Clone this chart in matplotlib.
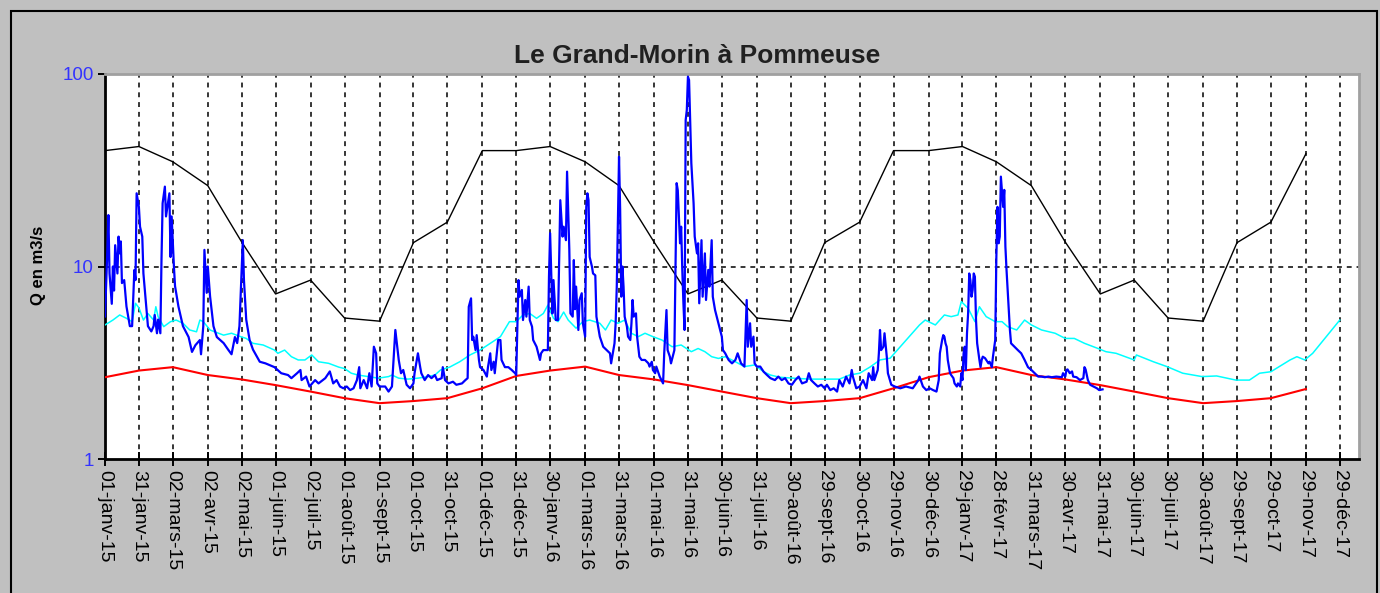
import datetime as dt
import matplotlib
matplotlib.use("Agg")
import matplotlib.pyplot as plt
import matplotlib.dates as mdates
from matplotlib.ticker import FixedLocator, NullLocator, FuncFormatter
from matplotlib.patches import Rectangle

plt.rcParams['font.family'] = ['Liberation Sans', 'DejaVu Sans']

title = "Le Grand-Morin à Pommeuse"
ylabel = "Q en m3/s"
start = dt.date(2015, 1, 1)

tick_labels = ["01-janv-15", "31-janv-15", "02-mars-15", "02-avr-15", "02-mai-15", "01-juin-15",
               "02-juil-15", "01-août-15", "01-sept-15", "01-oct-15", "31-oct-15", "01-déc-15",
               "31-déc-15", "30-janv-16", "01-mars-16", "31-mars-16", "01-mai-16", "31-mai-16",
               "30-juin-16", "31-juil-16", "30-août-16", "29-sept-16", "30-oct-16", "29-nov-16",
               "30-déc-16", "29-janv-17", "28-févr-17", "31-mars-17", "30-avr-17", "31-mai-17",
               "30-juin-17", "30-juil-17", "30-août-17", "29-sept-17", "29-oct-17", "29-nov-17",
               "29-déc-17"]

# monthly max (black) and min (red) curves, one value per tick date (first 36 ticks)
qmax = [40, 42, 35, 26.3, 13.4, 7.2, 8.5, 5.4, 5.2, 13.3, 17, 40,
        40, 42, 35, 26.3, 13.4, 7.2, 8.5, 5.4, 5.2, 13.3, 17, 40,
        40, 42, 35, 26.3, 13.4, 7.2, 8.5, 5.4, 5.2, 13.3, 17, 38.5]
qmin = [2.66, 2.88, 3.0, 2.73, 2.59, 2.42, 2.24, 2.07, 1.95, 2.0, 2.07, 2.33,
        2.70, 2.88, 3.02, 2.73, 2.59, 2.42, 2.24, 2.07, 1.95, 2.0, 2.07, 2.33,
        2.66, 2.88, 3.0, 2.73, 2.59, 2.42, 2.24, 2.07, 1.95, 2.0, 2.07, 2.31]

# mean daily flow (cyan): day offset from 2015-01-01, value
cyan_day = [0, 7, 13, 19, 24, 27, 30, 34, 38, 43, 45, 47, 52, 58, 63, 69, 75, 81, 84, 87, 93, 97,
            105, 112, 120, 125, 131, 140, 150, 153, 159, 165, 171, 177, 183, 189, 198, 207, 212,
            218, 224, 233, 242, 251, 254, 260, 268, 277, 286, 292, 297, 305, 314, 323, 332, 341,
            350, 358, 364, 370, 376, 382, 388, 392, 397, 401, 406, 410, 417, 423, 429, 438, 443,
            448, 454, 460, 466, 472, 478, 485, 493, 502, 510, 519, 525, 531, 537, 543, 549, 558,
            566, 575, 583, 589, 597, 609, 624, 639, 650, 659, 668, 677, 686, 695, 704, 712, 721,
            726, 735, 743, 749, 755, 758, 764, 770, 774, 780, 788, 794, 799, 807, 814, 820, 829,
            841, 850, 858, 867, 879, 886, 895, 911, 913, 928, 940, 954, 971, 984, 1001, 1013,
            1022, 1032, 1049, 1055, 1062, 1069, 1081, 1093]
cyan_q = [4.97, 5.27, 5.6, 5.38, 5.17, 6.44, 6.1, 5.27, 5.7, 5.27, 6.18, 5.49, 4.87, 5.17, 5.27,
          5.07, 4.68, 4.58, 5.27, 5.17, 4.68, 4.58, 4.4, 4.5, 4.32, 4.23, 3.99, 3.91, 3.68, 3.54,
          3.68, 3.4, 3.27, 3.27, 3.47, 3.2, 3.14, 3.0, 2.95, 2.79, 2.73, 2.68, 2.63, 2.68, 2.73,
          2.63, 2.6, 2.63, 2.68, 2.73, 2.9, 3.0, 3.2, 3.47, 3.68, 3.99, 4.32, 5.17, 5.17, 5.6, 5.7,
          5.38, 5.7, 6.3, 5.38, 5.17, 5.8, 5.27, 4.78, 5.17, 5.27, 5.07, 4.68, 5.27, 5.07, 5.27,
          4.5, 4.32, 4.5, 4.32, 4.15, 3.83, 3.91, 3.61, 3.75, 3.61, 3.4, 3.33, 3.4, 3.2, 3.02,
          3.08, 2.84, 2.73, 2.66, 2.63, 2.6, 2.6, 2.6, 2.73, 2.79, 3.0, 3.27, 3.34, 3.83, 4.32,
          4.97, 5.27, 4.97, 5.6, 5.49, 5.6, 6.57, 6.07, 5.17, 6.18, 5.49, 5.17, 5.17, 4.87, 4.68,
          5.27, 4.97, 4.68, 4.5, 4.23, 4.23, 3.99, 3.75, 3.61, 3.54, 3.27, 3.47, 3.2, 3.02, 2.79,
          2.68, 2.7, 2.57, 2.57, 2.79, 2.84, 3.27, 3.4, 3.27, 3.54, 4.32, 5.27]

# observed daily flow (blue): day offset from 2015-01-01, value
blue_day = [0, 2, 3, 4, 6, 7, 8, 9, 11, 12, 13, 14, 15, 17, 19, 22, 24, 26, 27, 28, 30, 31, 33,
            34, 36, 38, 41, 43, 44, 46, 47, 49, 50, 51, 53, 54, 57, 58, 59, 61, 62, 65, 69, 74,
            77, 80, 84, 85, 87, 88, 90, 91, 93, 96, 99, 105, 109, 112, 115, 117, 119, 122, 123,
            125, 128, 131, 137,
            142, 150, 156, 162, 165, 170, 173, 174, 178, 181, 186, 189, 195, 199, 202, 205, 208,
            211, 214, 217, 220, 223, 225, 226, 229, 232, 234, 236, 238, 240, 241, 243, 248, 251,
            254, 257, 258, 260, 262, 264, 267, 270, 273, 274, 277, 279, 280, 283, 286, 289,
            292, 294, 298, 299, 301, 304, 308, 311, 316, 319, 321, 322, 324, 325, 326, 328, 329,
            331, 332, 335, 338, 339, 341, 342, 344, 345, 348, 350, 351, 354, 357, 360, 363, 364,
            366, 367, 369, 370, 372, 373, 375, 376, 378, 379, 382, 385, 386, 388, 391, 392, 393,
            394, 396, 397, 399, 401, 403, 405, 406, 408, 409, 411, 412, 414, 415, 416, 417, 419,
            420, 422, 423, 425, 426, 427, 428, 429, 431, 432,
            434, 435, 438, 441, 444, 447, 448, 450, 451, 452, 453, 455, 456, 457, 458, 459, 460,
            462, 463, 465, 466, 467, 468, 470, 471, 473, 475, 478, 481, 482, 484, 485, 487, 488,
            491, 494, 495, 497, 498, 500, 501, 504, 506, 507, 509, 510, 511, 512, 513, 514, 515,
            516, 517, 519, 521, 522, 524, 525, 526, 528, 529, 531, 532, 534, 535, 537, 538, 540,
            543, 546, 547, 549, 552, 555, 558, 560, 562, 563, 566, 568, 569, 571, 572, 574, 575,
            577, 580, 583,
            586, 589, 593, 596, 599, 602, 605, 608, 611, 614, 617, 621, 623, 625, 628, 631, 634,
            637, 639, 642, 645, 648, 650, 653, 656, 659, 661, 662, 665, 668, 671, 674, 676, 679,
            680, 681, 684, 685, 686, 687, 689, 690, 692, 693, 696, 699, 704, 709, 715, 720, 721,
            724, 727, 730,
            733, 736, 738, 739, 741, 742, 743, 744, 745, 746, 748, 749, 751, 752, 754, 755, 757,
            758, 759, 760, 761, 762, 763, 764, 765, 766, 767, 768, 769, 770, 771, 772, 774, 775,
            776, 777, 779, 780, 782, 783, 785, 786, 788, 789, 790, 791, 792, 793, 795, 796, 797,
            798, 799, 801, 802, 805, 808, 811, 814, 817, 820, 823, 826, 829, 832, 835, 838, 842,
            847, 848, 850, 851, 852, 854, 856, 857, 860, 863, 866, 867, 868, 870, 872, 875, 878,
            880, 883]
blue_q = [5.5, 11.7, 18.5, 9.2, 6.4, 10, 7.5, 12.9, 9.2, 14.3, 11.7, 13.5, 8.2, 8.5, 6.2, 4.9,
          4.9, 9.6, 8.5, 24, 20.4, 16.1, 14.3, 9.2, 6.7, 4.9, 4.6, 4.9, 5.6, 4.5, 5.3, 4.5, 10.8,
          21.3, 26, 18.2, 24, 11.2, 18.2, 10, 7.9, 6.2, 4.9, 4.3, 3.6, 3.9, 4.15, 3.5, 4.9, 12.2,
          7.3, 10, 7.0, 4.9, 4.3, 4.0, 3.7, 3.5, 4.3, 4.0, 4.9, 13.7, 8.5, 5.3, 4.15, 3.7, 3.2,
          3.14, 3.0, 2.79, 2.73, 2.63, 2.79, 2.9, 2.57, 2.68, 2.38, 2.57, 2.47, 2.63, 2.85, 2.47,
          2.57, 2.38, 2.33, 2.38, 2.28, 2.33, 2.57, 3.0, 2.33, 2.57, 2.33, 2.79, 2.38, 3.83, 3.54,
          2.47, 2.38, 2.38, 2.24, 2.38, 4.68, 4.15, 3.27, 2.79, 2.9, 2.43, 2.33, 2.47, 2.79, 3.54,
          3.0, 2.79, 2.57, 2.73, 2.63,
          2.73, 2.57, 2.63, 3.0, 2.57, 2.47, 2.52, 2.43, 2.47, 2.57, 2.63, 6.18, 6.83, 4.15, 4.32,
          3.68, 4.4, 3.27, 3.0, 2.9, 2.68, 3.0, 3.54, 2.9, 3.2, 2.79, 4.15, 4.15, 3.27, 3.0, 3.0,
          2.9, 2.79, 2.73, 8.5, 6.97, 7.55, 5.27, 6.7, 5.49, 7.86, 5.27, 4.87, 4.15, 3.83, 3.27,
          3.54, 3.68, 3.68, 3.68, 8.85, 14.9, 5.7, 8.5, 5.27, 5.27, 22.1, 14.3, 16.1, 13.7, 31.1,
          12.2, 5.7, 5.49, 10.8, 6.0, 7.86, 4.68, 6.7, 7.26, 5.07, 4.32, 20.4, 24, 22.1, 11.2, 10,
          9.2,
          9.0, 5.49, 4.32, 3.83, 3.68, 3.54, 3.14, 3.68, 3.99, 5.07, 7.86, 37.2, 19.7, 6.97, 10,
          7.86, 5.49, 4.87, 4.32, 4.15, 5.07, 6.7, 5.49, 5.71, 4.32, 3.4, 3.27, 3.27, 3.14, 3.02,
          3.2, 2.9, 2.79, 3.02, 2.68, 2.47, 3.54, 5.94, 3.68, 3.4, 3.14, 3.68, 27.1, 24.9, 13.2,
          16.1, 9.6, 6.44, 4.68, 57.7, 65, 96.8, 93, 34.4, 21.3, 14.3, 11.7, 13.2, 6.44, 13.7,
          6.97, 11.7, 6.7, 9.6, 7.86, 13.7, 6.97, 5.94, 5.07, 4.32, 3.68, 3.54, 3.27, 3.14, 3.27,
          3.54, 3.27, 3.14, 3.02, 6.7, 3.83, 5.07, 3.83, 4.32, 3.14, 3.02, 3.02, 2.84,
          2.73, 2.63, 2.57, 2.68, 2.57, 2.63, 2.47, 2.43, 2.57, 2.68, 2.47, 2.52, 2.79, 2.57, 2.47,
          2.38, 2.43, 2.33, 2.43, 2.28, 2.33, 2.24, 2.57, 2.38, 2.68, 2.47, 2.9, 2.68, 2.33, 2.38,
          2.57, 2.33, 2.79, 2.57, 3.0, 2.57, 2.9, 3.54, 4.68, 3.68, 3.83, 4.5, 3.4, 2.79, 2.43,
          2.38, 2.33, 2.38, 2.33, 2.57, 2.68, 2.38, 2.28, 2.33,
          2.28, 2.24, 2.57, 3.54, 4.15, 4.4, 4.32, 3.99, 3.83, 3.27, 2.79, 2.73, 2.63, 2.47, 2.38,
          2.47, 2.38, 2.79, 2.57, 3.54, 3.83, 2.9, 4.5, 5.7, 9.2, 8.5, 6.97, 7.55, 9.2, 8.85,
          5.27, 3.99, 3.27, 3.0, 3.27, 3.4, 3.34, 3.27, 3.14, 3.2, 3.0, 3.4, 4.15, 11.2, 20.4,
          13.2, 14.3, 29.3, 20.4, 25, 12.7, 9.6, 7.55, 4.68, 3.99, 3.83, 3.68, 3.54, 3.27, 3.0,
          2.9, 2.79, 2.68, 2.68, 2.66, 2.68, 2.66, 2.68, 2.66, 2.79, 2.68, 2.9, 2.92, 2.79, 2.85,
          2.68, 2.66, 2.57, 2.63, 3.0, 2.92, 2.57, 2.43, 2.38, 2.33, 2.28, 2.3]

months = {'janv': 1, 'févr': 2, 'mars': 3, 'avr': 4, 'mai': 5, 'juin': 6, 'juil': 7,
          'août': 8, 'sept': 9, 'oct': 10, 'nov': 11, 'déc': 12}


def parse(label):
    d, m, y = label.split('-')
    return dt.date(2000 + int(y), months[m], int(d))


tick_x = [mdates.date2num(parse(t)) for t in tick_labels]
x0 = mdates.date2num(start)
cyan_x = [x0 + d for d in cyan_day]
blue_x = [x0 + d for d in blue_day]

W, H = 1380, 593
fig = plt.figure(figsize=(W / 100, H / 100), dpi=100, facecolor='#C0C0C0')
L, R, T, B = 105, 1359, 74, 459
ax = fig.add_axes([L / W, 1 - B / H, (R - L) / W, (B - T) / H])
ax.set_facecolor('white')

ax.plot(tick_x[:len(qmax)], qmax, color='black', lw=1.0, zorder=3)
ax.plot(tick_x[:len(qmin)], qmin, color='#FF0000', lw=1.5, zorder=3)
ax.plot(cyan_x, cyan_q, color='#00FFFF', lw=1.1, zorder=4)
ax.plot(blue_x, blue_q, color='#0000FF', lw=1.6, zorder=5)

ax.set_yscale('log')
ax.set_ylim(1, 100)
ax.set_xlim(x0, x0 + 1110)
ax.yaxis.set_major_locator(FixedLocator([1, 10, 100]))
ax.yaxis.set_minor_locator(NullLocator())
ax.yaxis.set_major_formatter(FuncFormatter(lambda v, p: f"{v:g}"))
ax.xaxis.set_major_locator(FixedLocator(tick_x))
ax.xaxis.set_minor_locator(NullLocator())
ax.set_xticklabels(tick_labels, rotation=270, ha='center', va='top')

ax.grid(axis='x', which='major', color='black', linestyle=(0, (3.2, 3.2)), linewidth=1.1)
ax.axhline(10, color='black', linestyle=(0, (3.2, 3.2)), linewidth=1.1, zorder=1)
ax.set_axisbelow(True)

ax.tick_params(axis='x', direction='inout', length=10, width=1.4, colors='black',
               labelsize=14, pad=3)
ax.tick_params(axis='y', direction='out', length=5, width=1.4, colors='black',
               labelcolor='#3333FF', labelsize=13.5, pad=3)

for s in ('left', 'bottom'):
    ax.spines[s].set_color('black')
    ax.spines[s].set_linewidth(2)
for s in ('top', 'right'):
    ax.spines[s].set_color('#A0A0A0')
    ax.spines[s].set_linewidth(2)

fig.text(697 / W, 1 - 56 / H, title, ha='center', va='center', fontsize=19,
         fontweight='bold', color='#202020')
fig.text(38 / W, 1 - 265 / H, ylabel, ha='center', va='center', rotation=90,
         fontsize=12, fontweight='bold')

fig.add_artist(Rectangle((11 / W, -0.2), (1377 - 11) / W, 0.2 + 1 - 11 / H,
                         transform=fig.transFigure, fill=False, edgecolor='black', lw=1.5))

fig.savefig('out.png', dpi=100, facecolor=fig.get_facecolor())
